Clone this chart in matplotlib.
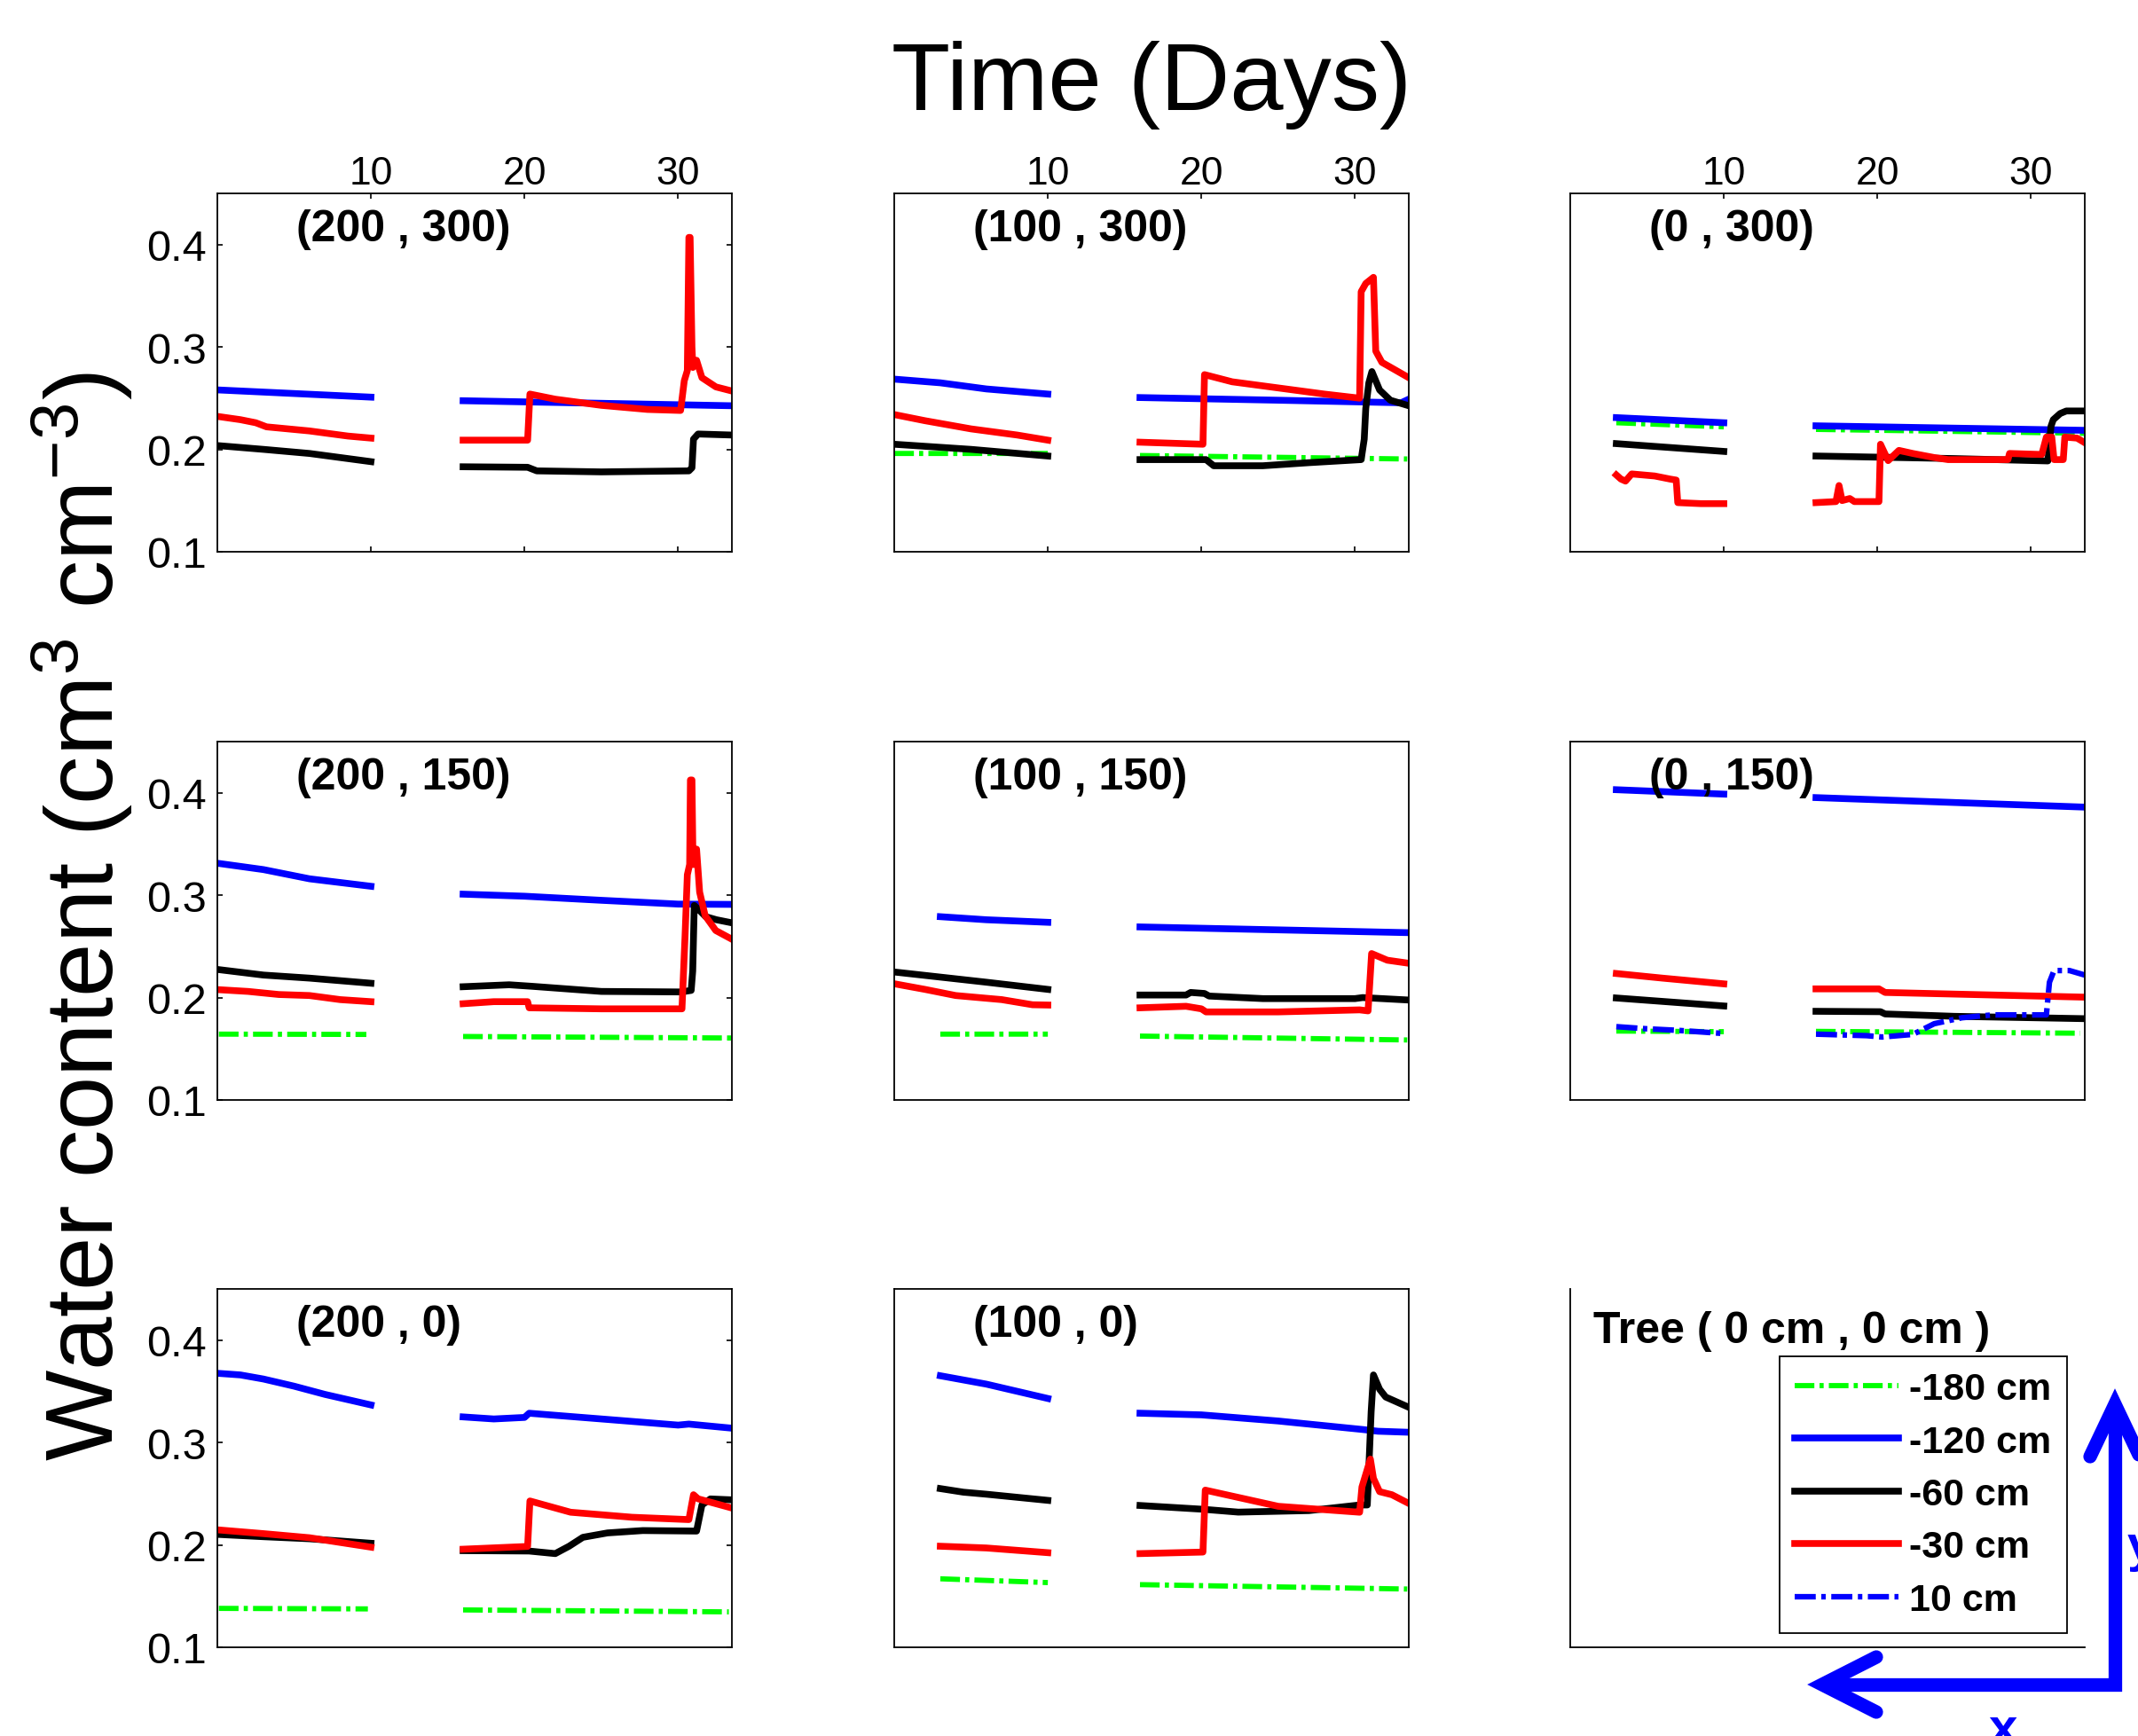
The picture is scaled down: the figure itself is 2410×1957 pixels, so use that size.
import numpy as np
import matplotlib.pyplot as plt
from matplotlib.lines import Line2D

plt.rcParams['font.family'] = ['Liberation Sans', 'DejaVu Sans']
plt.rcParams['mathtext.default'] = 'regular'

GAP = np.nan  # logger gap between day 10 and day 16

depth_keys = ['d180', 'd120', 'd60', 'd30', 'p10']
depth_labels = ['-180 cm', '-120 cm', '-60 cm', '-30 cm', '10 cm']

x_ticks = [10, 20, 30]
y_ticks = [0.1, 0.2, 0.3, 0.4]

# (days, water content) per depth
p200_300 = {
    'd120': ([0.1, 10, GAP, 16, 33.5], [0.258, 0.251, GAP, 0.2475, 0.2426]),
    'd60': ([0.1, 3, 6, 8, 10, GAP, 16, 20.2, 20.8, 25, 30.7, 30.9, 31.0, 31.3, 33.5],
            [0.2036, 0.2, 0.196, 0.192, 0.188, GAP, 0.183, 0.1825, 0.179, 0.178, 0.179, 0.182, 0.21, 0.215, 0.214]),
    'd30': ([0.1, 1.5, 2.5, 3.2, 6, 8.5, 10, GAP, 16, 20.2, 20.35, 22, 25, 28, 30.16, 30.4, 30.6,
             30.7, 30.78, 30.9, 30.96, 31.2, 31.55, 32.46, 33.5],
            [0.232, 0.229, 0.226, 0.222, 0.218, 0.213, 0.211, GAP, 0.209, 0.209, 0.254, 0.249, 0.243, 0.239, 0.238,
             0.267, 0.277, 0.407, 0.407, 0.3, 0.28, 0.287, 0.27, 0.261, 0.257]),
}

p100_300 = {
    'd180': ([0, 10, GAP, 16, 33.4], [0.196, 0.196, GAP, 0.194, 0.1906]),
    'd120': ([0, 3, 6, 10, GAP, 16, 25, 33, 33.5], [0.2686, 0.265, 0.259, 0.254, GAP, 0.2506, 0.248, 0.2455, 0.249]),
    'd60': ([0, 5, 10, GAP, 16, 20.3, 20.8, 24, 27, 30.4, 30.6, 30.7, 30.9, 31.1, 31.6, 32.3, 33.5],
            [0.205, 0.2, 0.1935, GAP, 0.19, 0.19, 0.184, 0.184, 0.187, 0.19, 0.21, 0.24, 0.265, 0.276, 0.258, 0.248, 0.2426]),
    'd30': ([0, 2, 5, 8, 10, GAP, 16, 20.1, 20.2, 22, 25, 28, 30.3, 30.4, 30.7, 31.2, 31.35, 31.75, 33.5],
            [0.234, 0.228, 0.22, 0.214, 0.209, GAP, 0.207, 0.205, 0.273, 0.266, 0.26, 0.254, 0.25, 0.354, 0.362, 0.368,
             0.296, 0.285, 0.27]),
}

p0_300 = {
    'd180': ([3, 10, GAP, 16, 33.5], [0.226, 0.222, GAP, 0.2195, 0.2157]),
    'd120': ([3, 10, GAP, 16, 33.5], [0.231, 0.226, GAP, 0.223, 0.2186]),
    'd60': ([3, 10, GAP, 16, 25, 31.1, 31.3, 31.45, 31.9, 32.3, 33.5],
            [0.2056, 0.198, GAP, 0.1935, 0.191, 0.1887, 0.2225, 0.229, 0.235, 0.2375, 0.2375]),
    'd30': ([3, 3.3, 3.6, 4.0, 5.5, 6.5, 6.9, 7.0, 8.5, 10, GAP, 16, 17.3, 17.5, 17.7, 18.2, 18.5, 20.1, 20.2,
             20.7, 21.4, 22.3, 23.7, 24.6, 28.5, 28.6, 30.7, 31.0, 31.35, 31.5, 32.1, 32.2, 33.0, 33.5],
            [0.175, 0.171, 0.169, 0.176, 0.174, 0.171, 0.17, 0.148, 0.147, 0.147, GAP, 0.148, 0.149, 0.1647, 0.15,
             0.152, 0.149, 0.149, 0.205, 0.189, 0.199, 0.196, 0.192, 0.19, 0.19, 0.196, 0.195, 0.212, 0.212, 0.19,
             0.19, 0.212, 0.211, 0.2065]),
}

p200_150 = {
    'd180': ([0.1, 9.7, GAP, 16, 33.5], [0.1643, 0.164, GAP, 0.162, 0.1605]),
    'd120': ([0.1, 3, 6, 10, GAP, 16, 20, 25, 30, 33.5], [0.331, 0.325, 0.316, 0.3087, GAP, 0.301, 0.299, 0.295, 0.2913, 0.291]),
    'd60': ([0.1, 3, 6, 10, GAP, 16, 19, 20.5, 25, 30.2, 30.85, 30.95, 31.05, 31.4, 31.8, 32.5, 33.5],
            [0.2273, 0.222, 0.219, 0.214, GAP, 0.2106, 0.2125, 0.211, 0.206, 0.2055, 0.207, 0.226, 0.29, 0.285,
             0.279, 0.276, 0.273]),
    'd30': ([0.1, 2, 4, 6, 8, 10, GAP, 16, 18, 20.2, 20.3, 25, 30.25, 30.45, 30.6, 30.75, 30.8, 30.9, 30.97,
             31.1, 31.2, 31.4, 31.76, 32.45, 33.5],
            [0.2077, 0.206, 0.203, 0.202, 0.198, 0.196, GAP, 0.194, 0.196, 0.196, 0.19, 0.189, 0.189, 0.26, 0.32,
             0.33, 0.4125, 0.4125, 0.33, 0.33, 0.345, 0.303, 0.28, 0.2655, 0.257]),
}

p100_150 = {
    'd180': ([3, 10, GAP, 16, 33.4], [0.1643, 0.1643, GAP, 0.1624, 0.1586]),
    'd120': ([3, 6, 10, GAP, 16, 33.5], [0.279, 0.276, 0.2735, GAP, 0.269, 0.2634]),
    'd60': ([0, 3, 6, 10, GAP, 16, 19, 19.3, 20.2, 20.5, 24, 30, 30.5, 33.5],
            [0.225, 0.22, 0.215, 0.208, GAP, 0.2025, 0.2025, 0.205, 0.204, 0.2015, 0.199, 0.199, 0.2, 0.1976]),
    'd30': ([0, 2, 4, 7, 9, 10, GAP, 16, 19, 20.0, 20.3, 25, 30.3, 30.85, 31.08, 32.1, 33.5],
            [0.2135, 0.208, 0.202, 0.198, 0.193, 0.1927, GAP, 0.19, 0.1915, 0.189, 0.186, 0.186, 0.188, 0.187,
             0.243, 0.2365, 0.2335]),
}

p0_150 = {
    'd180': ([3, 10, GAP, 16, 33.2], [0.1673, 0.1667, GAP, 0.167, 0.1652]),
    'd120': ([3, 10, GAP, 16, 33.5], [0.403, 0.3987, GAP, 0.3953, 0.386]),
    'd60': ([3, 10, GAP, 16, 20.2, 20.5, 25, 33.5], [0.1996, 0.1918, GAP, 0.1866, 0.1862, 0.184, 0.1817, 0.1794]),
    'd30': ([3, 6, 10, GAP, 16, 20.1, 20.5, 33.5], [0.2235, 0.219, 0.2134, GAP, 0.2085, 0.2085, 0.205, 0.2004]),
    'p10': ([3, 5, 7, 10, GAP, 16, 19.3, 20.3, 22.3, 23.7, 25.5, 27.5, 31.0, 31.2, 31.5, 32.5, 33.5],
            [0.1716, 0.1695, 0.168, 0.1649, GAP, 0.1643, 0.1628, 0.1615, 0.164, 0.1745, 0.1803, 0.1831, 0.1831,
             0.215, 0.2264, 0.2264, 0.222]),
}

p200_0 = {
    'd180': ([0.1, 9.8, GAP, 16, 33.3], [0.138, 0.1375, GAP, 0.1365, 0.1346]),
    'd120': ([0.1, 1.5, 3, 5, 7, 10, GAP, 16, 18, 20, 20.3, 25, 30, 30.7, 33.5],
             [0.3675, 0.366, 0.362, 0.355, 0.347, 0.3367, GAP, 0.325, 0.323, 0.3245, 0.3286, 0.323, 0.317, 0.318, 0.314]),
    'd60': ([0.1, 3, 6, 10, GAP, 16, 20.3, 22, 22.9, 23.8, 25.4, 27.7, 31.2, 31.55, 32.1, 33.5],
            [0.2102, 0.208, 0.206, 0.2016, GAP, 0.1944, 0.194, 0.1915, 0.1987, 0.2074, 0.2117, 0.214, 0.2135,
             0.239, 0.2449, 0.244]),
    'd30': ([0.1, 3, 6, 10, GAP, 16, 20.2, 20.35, 23, 27, 30.7, 31.0, 31.3, 33.5],
            [0.2146, 0.211, 0.207, 0.1978, GAP, 0.1958, 0.1985, 0.2429, 0.2319, 0.227, 0.2247, 0.249, 0.245, 0.236]),
}

p100_0 = {
    'd180': ([3, 10, GAP, 16, 33.4], [0.1669, 0.1632, GAP, 0.1612, 0.1569]),
    'd120': ([3, 6, 10, GAP, 16, 20, 25, 30.5, 31.5, 33.5], [0.3652, 0.357, 0.343, GAP, 0.3286, 0.327, 0.321, 0.3127, 0.311, 0.31]),
    'd60': ([3, 4.5, 6, 10, GAP, 16, 20.1, 22.4, 27, 30.3, 30.8, 31.05, 31.2, 31.6, 32, 33.5],
            [0.255, 0.2515, 0.2495, 0.2435, GAP, 0.2385, 0.2348, 0.232, 0.2335, 0.239, 0.239, 0.33, 0.366, 0.352,
             0.3444, 0.3344]),
    'd30': ([3, 6, 10, GAP, 16, 20.1, 20.25, 25, 30.3, 30.45, 31.0, 31.2, 31.6, 32.4, 33.5],
            [0.1987, 0.197, 0.1924, GAP, 0.1915, 0.193, 0.2535, 0.2377, 0.2319, 0.2565, 0.2838, 0.265, 0.252,
             0.249, 0.2405]),
}

panels = [
    [('(200 , 300)', p200_300), ('(100 , 300)', p100_300), ('(0 , 300)', p0_300)],
    [('(200 , 150)', p200_150), ('(100 , 150)', p100_150), ('(0 , 150)', p0_150)],
    [('(200 , 0)', p200_0), ('(100 , 0)', p100_0), None],
]

dashdot = (0, (3.8, 1.0, 0.8, 1.0))
styles = {
    'd180': dict(color='#00ff00', ls=dashdot, lw=4.2),
    'd120': dict(color='#0000ff', ls='-', lw=5.5),
    'd60': dict(color='black', ls='-', lw=5.5),
    'd30': dict(color='#ff0000', ls='-', lw=5.5),
    'p10': dict(color='#0000ff', ls=dashdot, lw=4.5),
}

W, H = 2410, 1958
fig = plt.figure(figsize=(W / 100, H / 100), dpi=100)


def fx(px):
    return px / W


def fy(py):
    return 1 - py / H


col_left = [245, 1008, 1770]
row_top = [219, 837, 1454]
ax_w, ax_h = 580, 404

for r in range(3):
    for c in range(3):
        rect = [fx(col_left[c]), fy(row_top[r] + ax_h), ax_w / W, ax_h / H]
        ax = fig.add_axes(rect)
        for sp in ax.spines.values():
            sp.set_linewidth(1.3)
        item = panels[r][c]
        if item is None:
            # tree panel: legend only
            ax.set_xlim(0, 1)
            ax.set_ylim(0, 1)
            ax.spines['top'].set_visible(False)
            ax.spines['right'].set_visible(False)
            ax.set_xticks([])
            ax.set_yticks([])
            ax.text(0.045, 0.884, 'Tree ( 0 cm , 0 cm )', transform=ax.transAxes,
                    fontsize=36, fontweight='bold', va='center')
            handles = [Line2D([], [], **styles[k]) for k in depth_keys]
            leg = ax.legend(handles, depth_labels, loc='upper left', bbox_to_anchor=(0.407, 0.812),
                            borderaxespad=0, prop=dict(size=31, weight='bold'), fancybox=False,
                            edgecolor='black', framealpha=1, handlelength=2.7, handletextpad=0.3,
                            labelspacing=0.45, borderpad=0.4)
            leg.get_frame().set_linewidth(1.3)
            continue
        label, data = item
        for k in depth_keys:
            if k in data:
                days, vals = data[k]
                ax.plot(days, vals, **styles[k])
        ax.set_xlim(0, 33.5)
        ax.set_ylim(0.1, 0.45)
        ax.text(0.153, 0.902, label, transform=ax.transAxes, fontsize=36, fontweight='bold', va='center')
        ax.tick_params(direction='in', length=4, width=1.2, top=True, right=True)
        if r == 0:
            ax.set_xticks(x_ticks)
            ax.tick_params(axis='x', labeltop=True, labelbottom=False, labelsize=32, pad=1.5)
        else:
            ax.set_xticks([])
        if c == 0:
            ax.set_yticks(y_ticks)
            ax.tick_params(axis='y', labelsize=35, pad=9)
        else:
            ax.set_yticks([])

fig.text(fx(1298), fy(96), 'Time (Days)', fontsize=78, ha='center', va='center')
fig.text(fx(93), fy(1033), r'Water content (cm$^3$ cm$^{-3}$)', rotation=90,
         fontsize=78, ha='center', va='center')

# x / y direction arrows
blue = '#0000ff'
fig.add_artist(Line2D([fx(2060), fx(2384), fx(2384)], [fy(1900), fy(1900), fy(1590)],
                      color=blue, lw=11, solid_joinstyle='miter', solid_capstyle='butt'))
fig.add_artist(Line2D([fx(2115), fx(2054), fx(2115)], [fy(1869), fy(1900), fy(1931)],
                      color=blue, lw=11, solid_joinstyle='miter', solid_capstyle='round'))
fig.add_artist(Line2D([fx(2356), fx(2384), fx(2412)], [fy(1643), fy(1584), fy(1643)],
                      color=blue, lw=11, solid_joinstyle='miter', solid_capstyle='round'))
fig.text(fx(2258), fy(1924), 'x', color=blue, fontsize=42, fontweight='bold', ha='center', va='top')
fig.text(fx(2398), fy(1745), 'y', color=blue, fontsize=42, fontweight='bold', ha='left', va='center')

fig.savefig('out.png', dpi=100)
